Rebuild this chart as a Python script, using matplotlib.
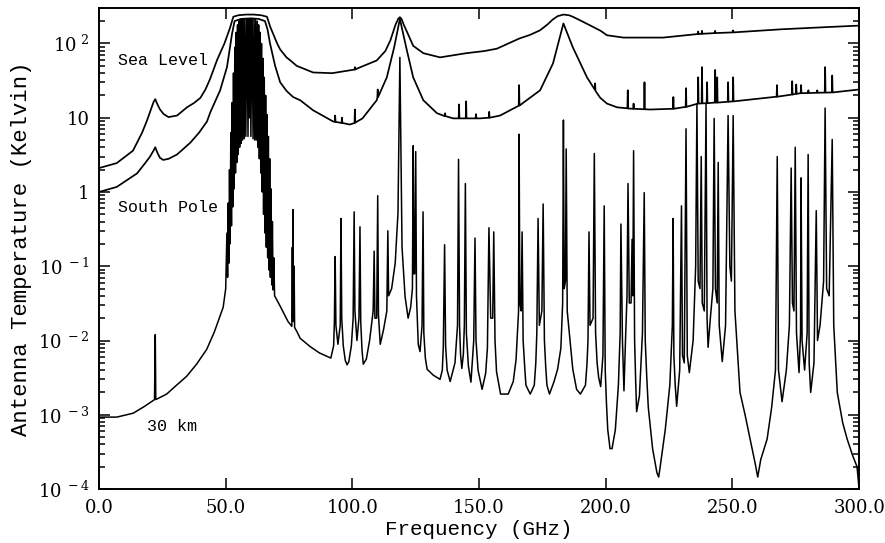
"""Atmospheric antenna temperature spectra: sea level, South Pole and 30 km."""

import matplotlib
matplotlib.use("Agg")
import matplotlib.pyplot as plt
from matplotlib.ticker import LogLocator, NullFormatter


# Section: values (frequency in GHz, temperature in K).
sea_level_ghz = [
    0, 7, 13.4, 17, 19, 20.5, 21.6, 22.2, 22.8, 24, 25.5, 27.4, 30.8, 34.7, 37.5, 40,
    42, 43.8, 46.6, 49.5, 51.7, 53, 55, 58, 61, 64, 66.3, 67.5, 70.3, 71.5, 74, 76.6,
    78, 84.5, 92, 100.85, 101, 101.15, 101.7, 109.6, 113, 115, 117, 118.1, 118.75, 119.4,
    120.3, 121.5, 124, 128, 134.6, 145, 152, 157, 166, 170, 174, 177, 179, 181, 183.3,
    185.5, 187, 190, 194, 198, 200.5, 207, 222.7, 236.35, 236.5, 236.65, 237.85, 238,
    238.15, 243.05, 243.2, 243.35, 250.15, 250.3, 250.45, 269, 287, 300,
]
sea_level_k = [
    2.1, 2.45, 3.6, 6.3, 9.3, 13, 16.5, 17.8, 15.8, 13, 11.2, 10.2, 10.7, 13.8, 15.8, 18.5,
    24, 33, 60, 100, 162, 229, 240, 245, 245, 240, 229, 170, 100, 83, 65, 55,
    50, 40.7, 39.8, 44.5, 48, 44.6, 45.7, 59, 79, 110, 178, 215, 226, 214,
    178, 145, 93, 74, 65, 74, 79, 85, 117, 130, 150, 180, 209, 233, 245,
    240, 229, 204, 174, 148, 129, 120, 120, 134, 145, 134, 135, 148,
    135, 138, 148, 138, 141, 150, 141, 155, 166, 174,
]

south_pole_ghz = [
    0, 7, 15, 18, 20, 21.5, 22.2, 23.0, 24.0, 25.3, 27.5, 30.8, 36, 39.5, 42.6, 44, 47.8,
    50.5, 52.5, 53.5, 56, 60, 63, 65.5, 66.5, 67.5, 69.5, 71.5, 74, 76.6, 79.4, 84.5,
    92.4, 93.05, 93.2, 93.35, 95.75, 95.9, 96.05, 99, 100.85, 101, 101.15, 104,
    109.6, 109.85, 110, 110.15, 113.6, 116.5, 118.75, 121.5, 124, 128, 133.4,
    136.45, 136.6, 136.75, 139.8, 141.95, 142.1, 142.25, 144.75, 144.9, 145.05,
    148.65, 148.8, 148.95, 150.4, 153.85, 154, 154.15, 158.3, 165.65, 165.8, 165.95,
    166.2, 174.1, 179.2, 183.3, 187, 192.6, 195.65, 195.8, 195.95, 197.8, 200.5,
    204.5, 208.55, 208.7, 208.85, 210.85, 211.0, 211.15, 215.15, 215.3, 215.45,
    217.5, 226.55, 226.7, 226.85, 231.55, 231.7, 231.85, 236.35, 236.5, 236.65,
    237.85, 238.0, 238.15, 239.85, 240.0, 240.15, 243.05, 243.2, 243.35, 243.85,
    244.0, 244.15, 248.15, 248.3, 248.45, 250.15, 250.3, 250.45, 266, 267.45,
    267.6, 267.75, 273.45, 273.6, 273.75, 275.05, 275.2, 275.35, 276.95, 277.1,
    277.25, 279.85, 280.0, 280.15, 283.35, 283.5, 283.65, 286.45, 286.6, 286.75,
    289.25, 289.4, 289.55, 300,
]
south_pole_k = [
    1.0, 1.17, 1.78, 2.4, 2.95, 3.6, 4.0, 3.4, 2.9, 2.7, 2.8, 3.2, 4.6, 6.3, 8.9, 12, 23.4,
    48, 135, 200, 214, 218, 214, 200, 155, 100, 50, 30, 23, 19, 17.2, 12.6,
    8.9, 8.8, 10.7, 8.8, 8.5, 10, 8.5, 8.1, 8.5, 12.9, 8.6, 9.8,
    17.2, 18.5, 24, 19, 35, 89, 214, 81, 35, 17.2, 11.5,
    10.5, 11.5, 10.5, 9.8, 9.8, 15.1, 9.8, 9.8, 16.6, 9.8,
    9.8, 11.2, 9.8, 9.8, 10, 12, 10, 10.7, 14.5, 27.5, 14.6,
    14.8, 23.4, 54, 186, 89, 35, 24, 29, 23, 18.6, 15.5,
    13.8, 13.4, 23.4, 13.3, 13.2, 15.5, 13.2, 13.0, 30, 13.0,
    12.9, 13.2, 19, 13.2, 14, 25, 14, 15.5, 35, 15.5,
    15.6, 48, 15.6, 15.7, 30, 15.7, 16, 44, 16, 16,
    35, 16, 16.4, 30, 16.4, 16.6, 35, 16.6, 19, 19.2,
    27.5, 19.2, 20.5, 31, 20.5, 21, 28, 21, 21.4, 27.5,
    21.4, 21.5, 23.4, 21.5, 21.7, 23.4, 21.7, 21.8, 48, 21.8,
    21.9, 37, 21.9, 24,
]

km30_ghz = [
    0, 7, 13.5, 18, 21.9, 22.2, 22.4, 26.7, 30, 34.6, 38.5, 42.5, 45.5, 49.0, 50.0,
    50.47, 50.75, 50.99, 51.25, 51.5, 51.75, 52.02, 52.28, 52.54, 52.8, 53.07, 53.33,
    53.6, 53.86, 54.13, 54.4, 54.67, 54.95, 55.22, 55.5, 55.78, 56.02, 56.26, 56.31,
    56.36, 56.66, 56.97, 57.3, 57.61, 57.95, 58.32, 58.38, 58.45, 58.8, 59.16, 59.38,
    59.59, 59.95, 60.31, 60.37, 60.43, 60.8, 61.15, 61.47, 61.8, 62.1, 62.45, 62.72,
    63.0, 63.28, 63.57, 63.85, 64.13, 64.4, 64.68, 64.95, 65.22, 65.5, 65.76, 66.03,
    66.3, 66.57, 66.84, 67.1, 67.37, 67.63, 67.9, 68.17, 68.43, 68.7, 68.96, 69.3,
    71.5, 74.6, 76.1, 76.3, 76.45, 76.6, 76.75, 77.0, 77.2, 78.2, 79.4, 83.3, 87.0,
    91.5, 92.6, 92.9, 93.2, 93.5, 94.3, 95.2, 95.5, 95.8, 96.4, 97.2, 97.9, 98.6,
    99.6, 100.3, 100.7, 101.0, 101.8, 102.6, 103.0, 103.3, 103.8, 104.3, 105.5,
    106.8, 108.2, 108.6, 108.9, 109.6, 110.0, 110.3, 111.0, 112.3, 113.6, 114.0,
    114.3, 115.5, 116.9, 118.0, 118.75, 119.6, 120.8, 122.0, 123.0, 123.7, 124.0,
    124.3, 124.6, 125.0, 125.3, 126.0, 126.7, 127.5, 127.9, 128.2, 128.8, 129.5,
    132.0, 134.6, 135.5, 135.9, 136.4, 136.8, 137.4, 138.6, 140.5, 141.5, 141.9,
    142.3, 142.7, 143.2, 143.8, 144.2, 144.6, 145.0, 145.8, 146.8, 147.9, 148.4,
    148.8, 149.6, 151.2, 152.6, 153.3, 153.9, 154.6, 155.4, 155.8, 156.3, 156.9,
    158.5, 161.5, 163.5, 164.6, 165.0, 165.6, 165.8, 166.1, 166.6, 167.0, 167.4,
    168.0, 168.5, 170.2, 171.8, 172.4, 172.8, 173.3, 173.8, 174.8, 175.3, 175.8,
    176.3, 176.8, 177.8, 179.6, 181.0, 182.3, 183.0, 183.3, 183.6, 184.1, 184.4,
    184.8, 186.0, 187.0, 188.5, 190.0, 192.0, 192.6, 193.0, 193.4, 193.8, 195.0,
    195.5, 196.0, 196.6, 197.2, 198.0, 198.9, 199.4, 199.8, 200.3, 200.8, 201.7,
    202.5, 203.8, 205.0, 205.7, 206.0, 206.6, 207.2, 207.8, 208.4, 208.8, 209.3,
    210.0, 210.4, 210.7, 211.0, 211.4, 211.8, 212.2, 213.3, 214.5, 215.2, 215.6,
    216.2, 216.8, 218.5, 220.2, 220.9, 221.5, 223.5, 225.3, 226.3, 226.6, 226.9,
    227.4, 228.0, 229.2, 229.9, 230.3, 231.0, 231.7, 232.2, 233.0, 234.5, 235.5,
    236.0, 236.5, 237.2, 237.7, 238.1, 238.9, 239.6, 240.0, 240.4, 241.3, 242.3,
    242.8, 243.3, 244.0, 244.4, 244.8, 246.0, 247.3, 248.3, 249.0, 249.6, 250.3,
    251.0, 253.0, 255.0, 257.0, 259.0, 260.0, 261.2, 263.7, 265.5, 267.0, 267.7,
    268.2, 269.6, 271.3, 272.5, 273.2, 273.7, 274.3, 274.8, 275.3, 276.3, 276.9,
    277.1, 277.5, 278.5, 279.5, 279.9, 280.3, 280.9, 282.2, 283.1, 283.6, 284.6,
    286.0, 286.6, 287.2, 288.2, 289.4, 290.0, 291.4, 293.5, 295.3, 297.5, 299.2,
    299.6, 300.0,
]
km30_k = [
    9.3e-4, 9.3e-4, 1.05e-3, 1.3e-3, 1.6e-3, 1.2e-2, 1.6e-3, 1.9e-3, 2.4e-3, 3.3e-3, 4.8e-3, 7.6e-3, 1.3e-2, 2.8e-2, 5.0e-2,
    0.28, 7.1e-2, 0.71, 0.11, 2.0, 0.2, 6.3, 0.35, 16, 0.63, 40, 1.1,
    89, 1.8, 141, 2.5, 178, 3.2, 200, 4.0, 209, 4.5, 214, 32,
    200, 5.0, 214, 5.2, 214, 5.6, 214, 40, 200, 5.6, 214, 10,
    214, 5.6, 214, 40, 200, 5.2, 214, 5.0, 209, 5.0, 200, 4.0,
    178, 2.8, 141, 1.8, 100, 1.0, 63, 0.5, 35, 0.28, 20, 0.18,
    11, 0.13, 5.6, 8.9e-2, 2.8, 7.1e-2, 1.1, 5.6e-2, 0.4, 4.8e-2, 0.13, 4.0e-2,
    2.9e-2, 1.8e-2, 1.55e-2, 0.18, 2.0e-2, 0.58, 1.8e-2, 0.1, 1.5e-2, 1.3e-2, 1.07e-2, 8.3e-3, 6.8e-3,
    5.8e-3, 8.5e-3, 1.8e-2, 0.135, 1.6e-2, 8.9e-3, 1.6e-2, 0.44, 2.0e-2, 8.5e-3, 5.4e-3, 4.7e-3, 5.2e-3,
    8.5e-3, 2.0e-2, 0.54, 2.5e-2, 1.0e-2, 2.0e-2, 0.34, 1.8e-2, 7.5e-3, 4.8e-3, 5.6e-3,
    1.0e-2, 2.5e-2, 0.16, 2.0e-2, 2.0e-2, 0.89, 2.2e-2, 8.9e-3, 1.4e-2, 2.5e-2, 0.30,
    4.0e-2, 5.0e-2, 0.11, 0.52, 65, 0.18, 3.9e-2, 2.0e-2, 2.8e-2, 5.0e-2, 4.2,
    7.9e-2, 7.9e-2, 3.5, 4.0e-2, 8.9e-3, 7.1e-3, 1.6e-2, 0.54, 1.26e-2, 5.8e-3, 4.1e-3,
    3.4e-3, 3.0e-3, 4.0e-3, 8.5e-3, 0.195, 8.5e-3, 4.0e-3, 2.8e-3, 5.0e-3, 1.6e-2, 2.75,
    1.6e-2, 6.5e-3, 4.2e-3, 6.5e-3, 1.6e-2, 1.3, 1.26e-2, 4.5e-3, 2.75e-3, 1.0e-2, 0.24,
    1.0e-2, 4.0e-3, 2.2e-3, 3.6e-3, 7.9e-3, 0.33, 2.0e-2, 2.0e-2, 0.29, 1.0e-2, 3.8e-3,
    1.9e-3, 1.9e-3, 2.8e-3, 5.5e-3, 1.0e-2, 2.5e-2, 6.0, 3.2e-2, 2.5e-2, 0.29, 1.0e-2,
    4.5e-3, 2.5e-3, 1.9e-3, 2.5e-3, 5.0e-3, 1.26e-2, 0.44, 1.6e-2, 2.5e-2, 0.69, 1.0e-2,
    4.5e-3, 2.5e-3, 1.9e-3, 2.8e-3, 4.1e-3, 7.9e-3, 3.2e-2, 9.3, 5.0e-2, 6.3e-2, 3.8,
    2.5e-2, 9.3e-3, 4.1e-3, 2.2e-3, 1.9e-3, 2.5e-3, 4.8e-3, 1.0e-2, 0.29, 1.6e-2, 2.0e-2,
    3.3, 1.26e-2, 5.0e-3, 3.2e-3, 2.4e-3, 6.3e-3, 0.65, 4.0e-3, 1.4e-3, 6.3e-4, 3.5e-4,
    3.5e-4, 6.3e-4, 2.5e-3, 1.26e-2, 0.37, 1.0e-2, 2.1e-3, 1.0e-2, 4.0e-2, 1.3, 3.2e-2,
    3.2e-2, 0.23, 4.0e-2, 3.6, 1.0e-2, 3.0e-3, 1.1e-3, 1.8e-3, 1.26e-2, 0.98, 1.0e-2,
    3.2e-3, 1.26e-3, 3.5e-4, 1.66e-4, 1.45e-4, 2.0e-4, 6.3e-4, 2.5e-3, 1.6e-2, 0.44, 6.3e-3,
    2.6e-3, 1.3e-3, 4.0e-3, 0.65, 6.3e-3, 5.0e-3, 7.1, 6.3e-3, 3.7e-3, 1.0e-2, 0.1,
    15.5, 6.3e-2, 5.0e-2, 3.0, 3.2e-2, 2.5e-2, 15.5, 2.0e-2, 8.1e-3, 2.0e-2, 5.0e-2,
    9.8, 5.0e-2, 3.2e-2, 2.5, 1.6e-2, 5.2e-3, 1.6e-2, 10.7, 0.1, 6.3e-2, 10.7,
    2.5e-2, 2.0e-3, 1.0e-3, 4.7e-4, 2.2e-4, 1.45e-4, 2.5e-4, 4.7e-4, 1.26e-3, 4.0e-3, 3.0,
    4.0e-3, 1.5e-3, 4.0e-3, 1.6e-2, 2.1, 3.2e-2, 2.5e-2, 4.0, 1.26e-2, 3.7e-3, 1.26e-2,
    1.55, 1.0e-2, 4.0e-3, 1.26e-2, 3.2, 5.0e-3, 2.0e-3, 5.0e-3, 0.56, 1.0e-2, 1.6e-2,
    6.3e-2, 13.5, 5.0e-2, 4.0e-2, 5.1, 1.6e-2, 2.0e-3, 7.9e-4, 4.7e-4, 2.8e-4, 2.0e-4,
    1.4e-4, 1.0e-4,
]

y_tick_values = [1e-4, 1e-3, 1e-2, 1e-1, 1, 10, 100]
y_tick_labels = [r"10$^{\ -4}$", r"10$^{\ -3}$", r"10$^{\ -2}$", r"10$^{\ -1}$", "1", "10", r"10$^{\ 2}$"]
x_tick_values = [0, 50, 100, 150, 200, 250, 300]
x_tick_labels = ["0.0", "50.0", "100.0", "150.0", "200.0", "250.0", "300.0"]


# Section: draw the three spectra on a log temperature axis.
def main() -> None:
    plt.rcParams["font.family"] = "DejaVu Serif"
    plt.rcParams["mathtext.fontset"] = "dejavuserif"

    fig = plt.figure(figsize=(8.85, 5.43), dpi=100)
    ax = fig.add_axes([0.1119, 0.0994, 0.8588, 0.8858])

    ax.plot(sea_level_ghz, sea_level_k, color="black", linewidth=1.25)
    ax.plot(south_pole_ghz, south_pole_k, color="black", linewidth=1.25)
    ax.plot(km30_ghz, km30_k, color="black", linewidth=1.1)

    ax.set_yscale("log")
    ax.set_xlim(0, 300)
    ax.set_ylim(1e-4, 300)
    ax.set_xticks(x_tick_values)
    ax.set_xticklabels(x_tick_labels)
    ax.set_yticks(y_tick_values)
    ax.set_yticklabels(y_tick_labels)
    ax.yaxis.set_minor_locator(LogLocator(base=10, subs=range(2, 10), numticks=20))
    ax.yaxis.set_minor_formatter(NullFormatter())
    ax.tick_params(which="both", direction="in", top=True, right=True, width=1.1)
    ax.tick_params(which="major", length=8, labelsize=13, pad=7)
    ax.tick_params(which="minor", length=4)
    for spine in ax.spines.values():
        spine.set_linewidth(1.4)

    mono = "Liberation Mono"
    ax.set_xlabel("Frequency (GHz)", family=mono, fontsize=15, labelpad=2)
    ax.set_ylabel("Antenna Temperature (Kelvin)", family=mono, fontsize=16, labelpad=4)

    ax.text(0.025, 0.89, "Sea Level", transform=ax.transAxes, family=mono, fontsize=12, va="center")
    ax.text(0.025, 0.586, "South Pole", transform=ax.transAxes, family=mono, fontsize=12, va="center")
    ax.text(0.063, 0.129, "30 km", transform=ax.transAxes, family=mono, fontsize=12, va="center")

    fig.savefig("out.png", dpi=100)
    plt.close(fig)


if __name__ == "__main__":
    main()
